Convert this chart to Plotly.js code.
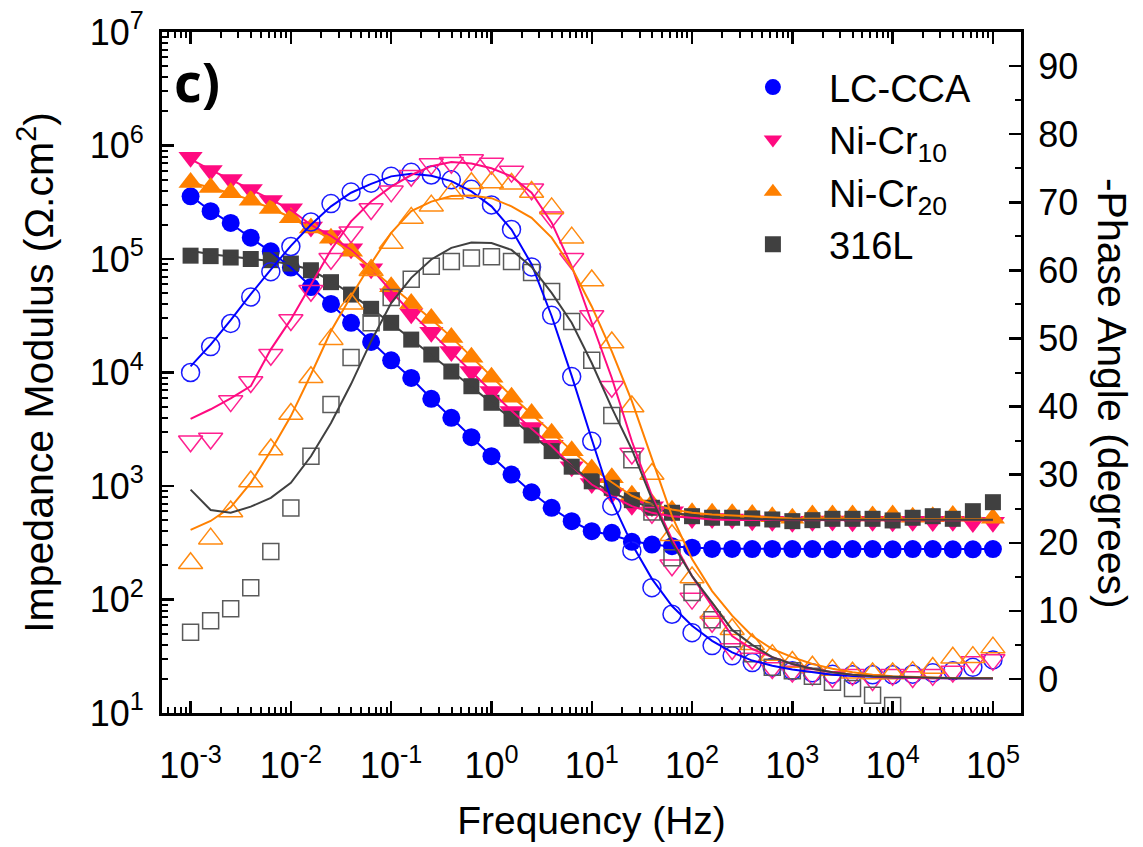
<!DOCTYPE html>
<html>
<head>
<meta charset="utf-8">
<script src="https://cdn.plot.ly/plotly-3.0.1.min.js"></script>
<style>html,body{margin:0;padding:0;background:#fff;}#chart{width:1143px;height:847px;}</style>
</head>
<body>
<div id="chart"></div>
<script>
// Frequencies (Hz)
const freq = [0.001,0.001585,0.002512,0.003981,0.00631,
  0.01,0.01585,0.02512,0.03981,0.0631,
  0.1,0.1585,0.2512,0.3981,0.631,
  1,1.585,2.512,3.981,6.31,
  10,15.85,25.12,39.81,63.1,
  100,158.5,251.2,398.1,631,
  1000,1585,2512,3981,6310,
  10000,15850,25120,39810,63100,
  100000];

const seriesNames = ['LC-CCA', 'Ni-Cr<sub>10</sub>', 'Ni-Cr<sub>20</sub>', '316L'];

// Impedance modulus (ohm.cm2): measured and fitted
const lcccaMod = [357000,264000,208000,154000,117000,84100,56600,40200,27400,18600,12800,8950,5860,3990,2690,1830,1260,881,643,490,400,387,322,305,295,286,279,279,278,279,278,278,277,278,278,277,278,278,277,277,278];
const lcccaModFit = [360000,265000,206000,153000,116000,84000,57000,40000,27400,18600,12800,8900,5900,4000,2700,1830,1260,880,640,490,400,370,328,305,293,286,282,280,279,279,278,278,278,278,278,278,278,278,278,278,278];
const nicr10Mod = [789000,603000,501000,409000,327000,277000,191000,161000,123000,82000,49300,32900,22600,15300,10200,6810,4530,3270,2290,1480,1050,859,676,656,593,518,518,511,495,488,480,490,492,485,488,484,490,486,490,478,480];
const nicr10ModFit = [760000,610000,500000,410000,335000,270000,200000,160000,120000,83000,52000,33500,22500,15200,10300,6900,4600,3200,2250,1500,1030,815,665,580,542,525,508,501,500,500,500,500,500,500,500,500,500,500,500,500,500];
const nicr20Mod = [473000,427000,383000,330000,279000,231000,188000,152000,117000,80700,56900,40600,29900,20300,13600,9100,6050,4360,2920,2040,1410,1180,830,697,612,580,575,570,560,535,520,555,555,555,545,555,530,535,550,540,520];
const nicr20ModFit = [475000,425000,380000,330000,280000,232000,188000,150000,115000,82000,58000,41000,29500,20500,13800,9200,6200,4300,2950,2050,1450,1080,820,690,620,580,560,548,535,525,518,514,512,511,510,510,510,510,510,510,510];
const ss316Mod = [107000,106000,103000,100000,97700,91200,79600,62500,48600,36400,27400,19500,14400,10200,7570,5410,3910,2790,2030,1480,1100,964,750,643,581,542,525,525,518,507,490,500,514,514,514,497,525,542,514,600,720];
const ss316ModFit = [118000,110000,105000,100000,96000,90000,80000,64000,49000,36500,27200,19600,14300,10300,7500,5400,3900,2800,2040,1500,1100,880,735,640,580,550,530,520,512,508,505,505,505,505,505,505,505,505,505,505,505];

// -Phase angle (degrees): measured and fitted
const lcccaPh = [45.0,48.8,52.2,56.1,59.8,63.5,67.1,69.8,71.5,72.8,73.8,74.4,74.0,73.3,71.9,69.6,66.0,60.5,53.4,44.4,34.9,25.4,18.8,13.4,9.5,6.8,4.9,3.4,2.4,1.7,1.2,0.9,0.7,0.6,0.6,0.6,0.7,0.9,1.2,1.7,2.8];
const lcccaPhFit = [45.9,49.1,52.7,56.5,60.1,63.6,66.7,69.4,71.4,72.7,73.8,74.2,73.9,73.1,71.6,69.4,66.0,60.9,53.3,44.5,35.2,26.1,19.8,14.7,10.7,7.8,5.6,3.9,2.7,1.95,1.4,1.0,0.6,0.44,0.3,0.2,0.15,0.1,0.08,0.06,0.05];
const nicr10Ph = [34.9,35.3,40.8,43.6,47.6,52.7,57.0,61.7,65.6,69.0,71.6,73.9,75.6,75.8,76.2,75.7,74.5,71.9,67.8,61.7,53.3,42.9,33.1,24.4,16.7,11.8,8.4,4.4,3.0,1.6,1.1,0.6,0.3,0.6,-0.15,0.6,0.3,0.6,1.1,2.5,2.8];
const nicr10PhFit = [38.2,39.6,41.2,43.0,48.4,52.8,57.9,63.0,67.2,70.1,72.3,74.0,75.3,75.9,75.7,75.0,73.8,71.4,67.0,60.6,52.3,44.2,34.9,26.9,20.5,15.1,10.7,6.3,4.4,3.2,2.2,1.5,1.0,0.6,0.4,0.25,0.15,0.12,0.1,0.1,0.1];
const nicr20Ph = [17.0,20.6,24.6,29.0,33.7,38.9,44.3,49.9,55.1,60.0,64.0,67.7,69.5,71.3,72.8,72.9,72.7,71.5,69.1,64.8,58.5,49.4,40.0,30.1,21.1,14.9,9.7,7.3,5.1,3.5,2.5,1.8,1.3,0.9,0.8,0.8,1.0,1.6,3.1,3.2,4.6];
const nicr20PhFit = [21.9,23.2,25.2,28.8,33.5,38.6,44.7,51.1,56.2,61.0,65.5,68.7,70.1,70.9,71.0,70.6,69.4,67.7,64.8,60.4,54.7,48.1,40.8,32.3,23.9,17.6,12.9,9.3,6.3,4.4,3.2,2.2,1.5,1.0,0.6,0.4,0.25,0.2,0.15,0.1,0.1];
const ss316Ph = [6.85,8.55,10.3,13.4,18.7,25.1,32.7,40.3,47.2,52.3,56.0,58.7,60.6,61.3,61.8,62.0,61.3,59.7,56.9,52.5,46.8,38.7,32.2,24.5,17.8,12.7,8.7,5.9,3.7,1.7,1.2,0.4,-0.5,-1.4,-2.4,-3.9,null,null,null,null,null];
const ss316PhFit = [27.8,24.8,24.4,25.3,26.6,28.8,32.7,37.6,43.3,49.6,55.2,58.9,61.6,63.3,64.1,64.0,63.0,60.5,56.7,52.3,46.4,39.8,33.7,26.4,20.0,15.1,11.2,7.2,5.0,3.2,2.2,1.5,1.0,0.6,0.4,0.3,0.2,0.15,0.1,0.1,0.1];

// Axis tick labels
const xTickVals = [1e-3,1e-2,1e-1,1e0,1e1,1e2,1e3,1e4,1e5];
const xTickText = ['10<sup>-3</sup>','10<sup>-2</sup>','10<sup>-1</sup>','10<sup>0</sup>','10<sup>1</sup>','10<sup>2</sup>','10<sup>3</sup>','10<sup>4</sup>','10<sup>5</sup>'];
const yTickVals = [1e1,1e2,1e3,1e4,1e5,1e6,1e7];
const yTickText = ['10<sup>1</sup>','10<sup>2</sup>','10<sup>3</sup>','10<sup>4</sup>','10<sup>5</sup>','10<sup>6</sup>','10<sup>7</sup>'];

// styling
const colors = ['#0000FF', '#FF0A80', '#FF8000', '#404040'];
const symbols = ['circle', 'triangle-down', 'triangle-up', 'square'];
const sizes = [18, 21, 21, 16];
const modData = [lcccaMod, nicr10Mod, nicr20Mod, ss316Mod];
const modFit = [lcccaModFit, nicr10ModFit, nicr20ModFit, ss316ModFit];
const phData = [lcccaPh, nicr10Ph, nicr20Ph, ss316Ph];
const phFit = [lcccaPhFit, nicr10PhFit, nicr20PhFit, ss316PhFit];
const openColors = ['#1a1aff', '#FF2090', '#FF8A10', '#5a5a5a'];

function minorLogVals(lo, hi) {
  const v = [];
  for (let e = lo; e <= hi; e++) {
    for (let m = 2; m <= 9; m++) v.push(m * Math.pow(10, e));
  }
  return v;
}
const xMinor = [6e-4,7e-4,8e-4,9e-4].concat(minorLogVals(-3, 4));
const yMinor = minorLogVals(1, 6);

const traces = [];
// phase (open) markers
for (let k = 0; k < 4; k++) {
  traces.push({
    x: freq, y: phData[k], yaxis: 'y2', mode: 'markers', showlegend: false,
    marker: {symbol: symbols[k] + '-open', size: sizes[k], color: openColors[k], line: {width: 1.5, color: openColors[k]}},
    hoverinfo: 'skip'
  });
}
// modulus (filled) markers
for (let k = 0; k < 4; k++) {
  traces.push({
    x: freq, y: modData[k], yaxis: 'y', mode: 'markers', name: seriesNames[k],
    marker: {symbol: symbols[k], size: sizes[k], color: colors[k], line: {width: 0}},
    hoverinfo: 'skip'
  });
}
// fitted lines
for (let k = 0; k < 4; k++) {
  traces.push({x: freq, y: modFit[k], yaxis: 'y', mode: 'lines', showlegend: false,
    line: {color: colors[k], width: 2}, hoverinfo: 'skip'});
  traces.push({x: freq, y: phFit[k], yaxis: 'y2', mode: 'lines', showlegend: false,
    line: {color: colors[k], width: 2}, hoverinfo: 'skip'});
}

const FONT = 'Liberation Sans, Arial, Helvetica, sans-serif';
const layout = {
  width: 1143, height: 847,
  margin: {l: 162, r: 122, t: 32, b: 134},
  paper_bgcolor: '#fff', plot_bgcolor: '#fff',
  font: {family: FONT, color: '#000', size: 36},
  showlegend: true,
  xaxis: {
    type: 'log', range: [-3.285, 5.28],
    tickmode: 'array', tickvals: xTickVals, ticktext: xTickText,
    ticks: 'inside', ticklen: 12, tickwidth: 2.5, tickcolor: '#000',
    ticklabelstandoff: 19,
    showline: true, linewidth: 3, linecolor: '#000', mirror: 'ticks',
    showgrid: false, zeroline: false,
    tickfont: {size: 36, family: FONT},
    minor: {tickmode: 'array', tickvals: xMinor, ticks: 'inside', ticklen: 6, tickwidth: 2, tickcolor: '#000', showgrid: false},
    title: {text: 'Frequency (Hz)', font: {size: 39, family: FONT}, standoff: 22}
  },
  yaxis: {
    type: 'log', range: [1, 7],
    tickmode: 'array', tickvals: yTickVals, ticktext: yTickText,
    ticks: 'inside', ticklen: 12, tickwidth: 2.5, tickcolor: '#000',
    ticklabelstandoff: 8,
    showline: true, linewidth: 3, linecolor: '#000',
    showgrid: false, zeroline: false,
    tickfont: {size: 36, family: FONT},
    minor: {tickmode: 'array', tickvals: yMinor, ticks: 'inside', ticklen: 6, tickwidth: 2, tickcolor: '#000', showgrid: false},
    title: {text: 'Impedance Modulus (Ω.cm<sup>2</sup>)', font: {size: 41, family: FONT}, standoff: 24}
  },
  yaxis2: {
    overlaying: 'y', side: 'right', range: [-5, 95],
    tickmode: 'linear', tick0: 0, dtick: 10,
    ticks: 'inside', ticklen: 12, tickwidth: 2.5, tickcolor: '#000',
    ticklabelstandoff: 7,
    showline: true, linewidth: 3, linecolor: '#000',
    showgrid: false, zeroline: false,
    tickfont: {size: 36, family: FONT},
    minor: {dtick: 5, tick0: 0, ticks: 'inside', ticklen: 6, tickwidth: 2, tickcolor: '#000', showgrid: false}
  },
  legend: {
    x: 0.646, y: 0.965, xanchor: 'left', yanchor: 'top',
    font: {size: 38, family: FONT}, itemwidth: 102,
    bgcolor: 'rgba(0,0,0,0)', borderwidth: 0
  },
  annotations: [
    {text: '<b>c)</b>', xref: 'paper', yref: 'paper', x: 0.012, y: 0.928,
     xanchor: 'left', yanchor: 'middle', showarrow: false,
     font: {size: 54, family: 'Open Sans, Liberation Sans, sans-serif', color: '#000'}},
    {text: '-Phase Angle (degrees)', xref: 'paper', yref: 'paper', x: 1.106, y: 0.47,
     xanchor: 'center', yanchor: 'middle', textangle: 90, showarrow: false,
     font: {size: 41, family: FONT, color: '#000'}}
  ]
};

Plotly.newPlot('chart', traces, layout, {staticPlot: true, displayModeBar: false});
</script>
</body>
</html>
